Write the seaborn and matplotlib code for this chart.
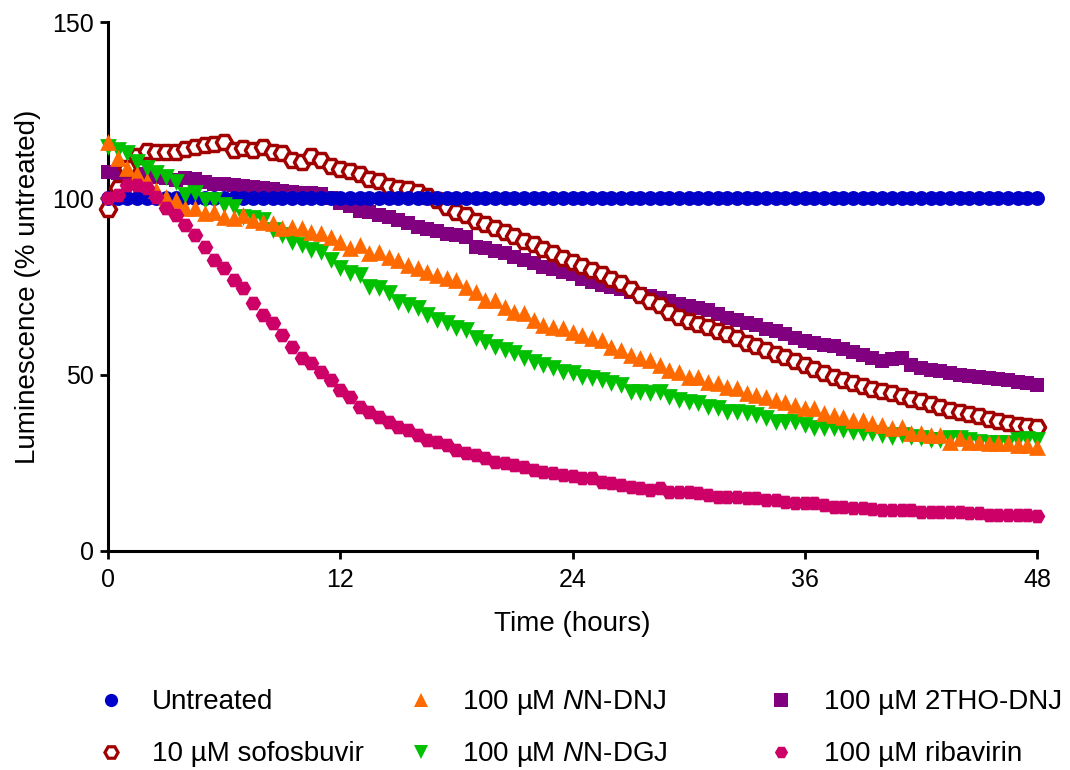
import numpy as np
import pandas as pd
import matplotlib
matplotlib.use("Agg")
import matplotlib.pyplot as plt
from matplotlib.lines import Line2D
import seaborn as sns

# Sampling times (every 30 min over 48 h)
hours = np.arange(0, 48.5, 0.5)

untreated = [
    100.0, 100.0, 100.0, 100.0, 100.0, 100.0, 100.0, 100.0, 100.0, 100.0,
    100.0, 100.0, 100.0, 100.0, 100.0, 100.0, 100.0, 100.0, 100.0, 100.0,
    100.0, 100.0, 100.0, 100.0, 100.0, 100.0, 100.0, 100.0, 100.0, 100.0,
    100.0, 100.0, 100.0, 100.0, 100.0, 100.0, 100.0, 100.0, 100.0, 100.0,
    100.0, 100.0, 100.0, 100.0, 100.0, 100.0, 100.0, 100.0, 100.0, 100.0,
    100.0, 100.0, 100.0, 100.0, 100.0, 100.0, 100.0, 100.0, 100.0, 100.0,
    100.0, 100.0, 100.0, 100.0, 100.0, 100.0, 100.0, 100.0, 100.0, 100.0,
    100.0, 100.0, 100.0, 100.0, 100.0, 100.0, 100.0, 100.0, 100.0, 100.0,
    100.0, 100.0, 100.0, 100.0, 100.0, 100.0, 100.0, 100.0, 100.0, 100.0,
    100.0, 100.0, 100.0, 100.0, 100.0, 100.0, 100.0,
]

sofosbuvir = [
    97.0, 103.0, 108.5, 112.0, 113.5, 113.0, 113.2, 113.0, 114.0, 114.5,
    115.0, 115.3, 116.0, 113.6, 114.2, 113.6, 114.5, 113.1, 112.8, 111.0,
    110.3, 112.0, 110.9, 109.2, 108.4, 107.8, 106.8, 105.5, 104.8, 103.5,
    103.0, 102.6, 101.8, 100.8, 99.6, 97.5, 96.2, 95.4, 93.6, 92.6,
    91.6, 90.5, 89.2, 88.0, 87.0, 85.6, 84.6, 83.2, 82.0, 80.8,
    79.8, 78.6, 77.2, 76.0, 74.4, 72.5, 70.8, 69.8, 67.8, 66.4,
    65.2, 64.3, 63.4, 62.4, 61.4, 60.3, 59.0, 58.0, 57.0, 56.0,
    55.0, 53.8, 52.7, 51.6, 50.6, 49.4, 48.4, 47.6, 46.8, 46.0,
    45.3, 44.7, 44.0, 43.2, 42.4, 41.6, 40.8, 40.0, 39.5, 38.8,
    38.2, 37.4, 36.8, 36.2, 35.8, 35.5, 35.3,
]

nn_dnj = [
    116.0, 111.4, 108.6, 107.0, 105.0, 102.4, 100.4, 99.5, 97.2, 97.2,
    95.8, 96.1, 94.7, 94.4, 95.3, 93.8, 93.3, 93.0, 91.6, 91.9,
    91.6, 90.4, 90.2, 89.0, 87.6, 86.0, 86.8, 84.5, 84.8, 83.4,
    82.5, 81.0, 80.2, 79.0, 78.3, 77.4, 76.8, 75.0, 73.5, 71.2,
    71.2, 69.2, 67.8, 67.5, 65.5, 64.0, 63.5, 63.2, 62.0, 61.2,
    60.4, 59.8, 57.8, 57.0, 55.6, 54.7, 54.2, 52.7, 51.3, 50.8,
    49.3, 49.3, 47.9, 47.6, 46.5, 46.2, 44.8, 44.2, 43.7, 42.8,
    42.2, 41.4, 40.6, 40.5, 39.0, 38.5, 38.0, 37.1, 37.1, 36.3,
    35.7, 34.9, 35.2, 33.5, 33.5, 32.9, 32.9, 30.9, 32.0, 30.9,
    30.9, 30.6, 30.6, 30.6, 30.0, 30.0, 29.5,
]

nn_dgj = [
    114.5, 113.7, 112.8, 110.3, 108.6, 107.2, 106.0, 104.6, 101.0, 101.5,
    99.5, 99.5, 98.0, 97.5, 94.7, 94.4, 93.8, 91.0, 89.6, 87.6,
    86.8, 85.3, 84.8, 82.5, 80.3, 78.8, 78.3, 74.9, 74.6, 73.2,
    70.6, 69.7, 68.9, 66.9, 65.5, 64.6, 63.2, 62.7, 60.4, 59.3,
    57.8, 57.0, 56.1, 54.7, 53.6, 52.7, 51.9, 50.8, 50.5, 49.3,
    49.0, 48.5, 47.6, 47.1, 45.1, 45.1, 44.8, 45.1, 43.7, 42.8,
    42.2, 42.0, 40.8, 40.5, 39.4, 39.4, 39.1, 38.6, 37.7, 36.6,
    36.6, 36.6, 35.7, 34.9, 34.9, 34.9, 34.3, 33.7, 33.5, 33.5,
    32.9, 32.3, 32.9, 32.3, 32.0, 31.5, 31.5, 32.0, 32.0, 31.5,
    30.9, 30.6, 30.6, 30.6, 31.5, 31.8, 31.5,
]

tho_dnj = [
    107.5, 107.3, 107.4, 106.8, 106.4, 106.0, 105.7, 105.3, 105.9, 105.6,
    104.6, 104.2, 104.0, 103.9, 103.6, 103.2, 103.0, 102.6, 102.2, 101.8,
    101.6, 101.4, 101.2, 100.0, 98.7, 97.8, 96.5, 96.0, 95.3, 94.6,
    93.9, 93.0, 92.0, 91.3, 90.6, 90.0, 89.6, 89.0, 86.2, 85.8,
    85.0, 84.4, 83.4, 82.4, 81.6, 80.6, 80.0, 79.0, 78.5, 77.2,
    76.3, 75.5, 74.8, 74.2, 73.4, 72.8, 72.3, 71.7, 70.8, 70.0,
    69.4, 68.8, 68.3, 67.2, 66.2, 65.4, 64.7, 64.0, 63.0, 62.3,
    61.4, 60.5, 59.5, 59.0, 58.4, 58.0, 57.2, 56.4, 55.6, 54.8,
    54.0, 54.5, 54.6, 52.6, 51.9, 51.4, 50.9, 50.5, 50.0, 49.7,
    49.3, 49.0, 48.7, 48.4, 47.9, 47.6, 47.1,
]

ribavirin = [
    100.0, 101.0, 103.8, 103.8, 103.0, 100.4, 97.2, 95.3, 92.4, 89.6,
    86.2, 82.5, 80.2, 76.8, 74.6, 70.3, 66.9, 64.6, 61.2, 57.8,
    54.7, 53.3, 50.8, 48.5, 45.6, 43.7, 40.8, 39.4, 38.0, 36.6,
    35.2, 34.3, 32.9, 31.5, 30.9, 30.0, 28.6, 27.8, 27.2, 26.4,
    25.2, 24.9, 24.4, 23.8, 23.0, 22.4, 22.1, 21.5, 21.3, 20.7,
    20.7, 19.6, 19.3, 18.7, 18.1, 17.9, 17.3, 17.9, 16.7, 16.7,
    16.7, 16.4, 15.9, 15.3, 15.3, 15.3, 15.0, 15.0, 14.5, 14.5,
    13.9, 13.6, 13.7, 13.6, 13.0, 12.5, 12.5, 12.2, 12.2, 12.0,
    11.6, 11.6, 11.6, 11.6, 11.1, 11.1, 11.1, 11.1, 11.1, 10.8,
    10.8, 10.2, 10.2, 10.2, 10.2, 10.2, 10.0,
]

labels = [
    "Untreated",
    "10 µM sofosbuvir",
    "100 µM $\\it{N}$N-DNJ",
    "100 µM $\\it{N}$N-DGJ",
    "100 µM 2THO-DNJ",
    "100 µM ribavirin",
]
x_ticks = [0, 12, 24, 36, 48]
y_ticks = [0, 50, 100, 150]

sns.set_theme(style="ticks")
plt.rcParams["font.family"] = ["Liberation Sans", "DejaVu Sans"]
plt.rcParams["mathtext.fontset"] = "custom"
plt.rcParams["mathtext.rm"] = "Liberation Sans"
plt.rcParams["mathtext.it"] = "Liberation Sans:italic"

FS = 20
TICK_FS = 18

# label, values, colour, marker, size, filled, draw order
series = [
    (labels[4], tho_dnj, "#800080", "s", 110, True, 3),
    (labels[1], sofosbuvir, "#A00000", "H", 135, False, 4),
    (labels[0], untreated, "#0000C8", "o", 115, True, 5),
    (labels[3], nn_dgj, "#00C000", "v", 145, True, 6),
    (labels[2], nn_dnj, "#FF6A00", "^", 145, True, 7),
    (labels[5], ribavirin, "#CC0066", "H", 128, True, 8),
]
styles = {}

fig = plt.figure(figsize=(10.7, 7.7), dpi=100)
ax = fig.add_axes([108 / 1070, 1 - 551 / 770, (1037 - 108) / 1070, (551 - 22) / 770])

for name, vals, col, mk, size, filled, z in series:
    df = pd.DataFrame({"Time": hours, "Value": vals})
    if filled:
        sns.scatterplot(data=df, x="Time", y="Value", ax=ax, color=col,
                        marker=mk, s=size, linewidth=0, zorder=z,
                        clip_on=False, legend=False)
    else:
        sns.scatterplot(data=df, x="Time", y="Value", ax=ax, color="white",
                        marker=mk, s=size, edgecolor=col, linewidth=2.5,
                        zorder=z, clip_on=False, legend=False)
    styles[name] = (col, mk, filled)

ax.set_xlim(0, 48)
ax.set_ylim(0, 150)
ax.set_xticks(x_ticks)
ax.set_yticks(y_ticks)
ax.tick_params(axis="both", labelsize=TICK_FS, width=2.0, length=6,
               color="black", labelcolor="black")
ax.tick_params(axis="x", pad=6)
ax.tick_params(axis="y", pad=4)
for side in ["top", "right"]:
    ax.spines[side].set_visible(False)
for side in ["left", "bottom"]:
    ax.spines[side].set_linewidth(2.2)
    ax.spines[side].set_color("black")
ax.set_xlabel("Time (hours)", fontsize=FS, color="black", labelpad=14)
ax.set_ylabel("Luminescence (% untreated)", fontsize=FS, color="black",
              labelpad=8)
ax.set_facecolor("white")
fig.patch.set_facecolor("white")

# Key below the axes: three columns of two entries
W, H = 1070, 770
key_layout = [
    (labels[0], 111, 152, 709),
    (labels[1], 111, 152, 761),
    (labels[2], 421, 462, 709),
    (labels[3], 421, 462, 761),
    (labels[4], 781, 824, 709),
    (labels[5], 781, 824, 761),
]
for name, mx, tx, base in key_layout:
    col, mk, filled = styles[name]
    my = base - 9
    handle = Line2D([mx / W], [1 - my / H], transform=fig.transFigure,
                    linestyle="none", marker=mk, markersize=9.5,
                    markerfacecolor=col if filled else "white",
                    markeredgecolor=col,
                    markeredgewidth=0 if filled else 2.3)
    fig.add_artist(handle)
    fig.text(tx / W, 1 - base / H, name, fontsize=FS, color="black",
             ha="left", va="baseline")

fig.savefig("out.png", dpi=100, facecolor="white")
